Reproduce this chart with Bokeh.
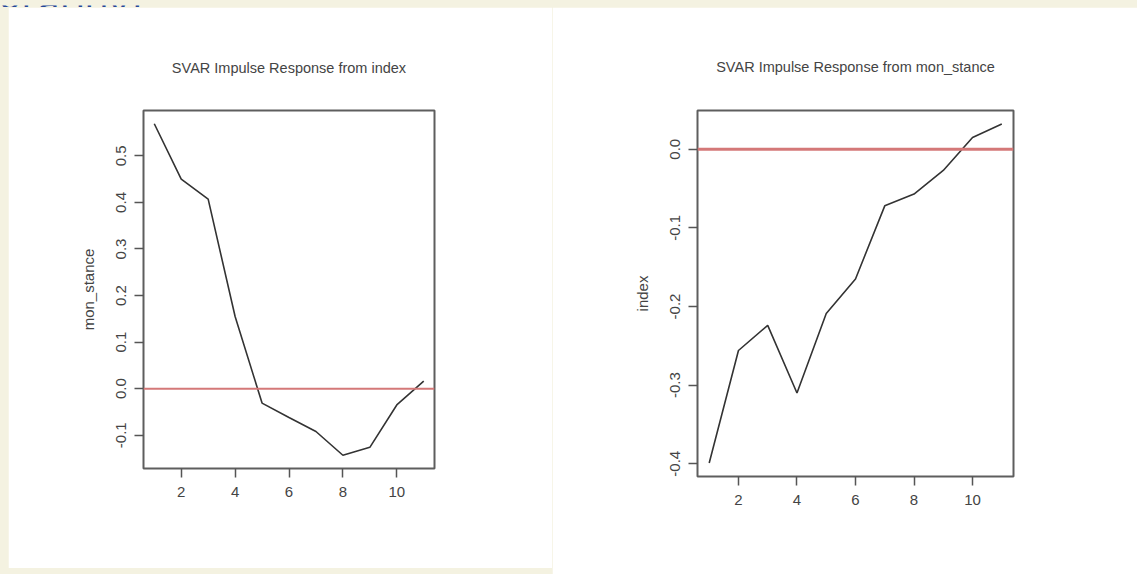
from bokeh.plotting import figure
from bokeh.layouts import column, row
from bokeh.models import (Range1d, FixedTicker, PrintfTickFormatter, Span, Spacer,
                          LinearAxis)
from bokeh.core.properties import value
from bokeh.embed import file_html
from bokeh.resources import INLINE

# Impulse response horizon (steps)
steps = [1, 2, 3, 4, 5, 6, 7, 8, 9, 10, 11]

# Response of mon_stance to a shock in index
resp_mon_stance = [0.569, 0.450, 0.407, 0.155, -0.031, -0.062, -0.092, -0.143, -0.126, -0.035, 0.016]
# Response of index to a shock in mon_stance
resp_index = [-0.399, -0.256, -0.224, -0.310, -0.209, -0.165, -0.072, -0.057, -0.027, 0.015, 0.032]

x_ticks = [2, 4, 6, 8, 10]
y_ticks_left = [-0.1, 0.0, 0.1, 0.2, 0.3, 0.4, 0.5]
y_ticks_right = [-0.4, -0.3, -0.2, -0.1, 0.0]

titles = ["SVAR Impulse Response from index", "SVAR Impulse Response from mon_stance"]
ylabels = ["mon_stance", "index"]
heading_text = "graphy)"

PAGE_BG = "#F4F2E1"
TEXT = "#444444"
FONT = "Liberation Sans"


def padded(vals, frac=0.04):
    lo, hi = min(vals), max(vals)
    d = (hi - lo) * frac
    return lo - d, hi + d


def irf_plot(xs, ys, yticks, title, ylabel, frame_w, frame_h, bl, br, bt, bb,
             title_gap, red_width):
    x0, x1 = padded(xs)
    y0, y1 = padded(ys)
    p = figure(frame_width=frame_w, frame_height=frame_h,
               x_range=Range1d(x0, x1), y_range=Range1d(y0, y1),
               output_backend="svg", toolbar_location=None,
               min_border_left=bl, min_border_right=br,
               min_border_top=bt, min_border_bottom=bb,
               background_fill_color="white", border_fill_color="white")
    p.margin = 0
    p.grid.visible = False
    p.outline_line_color = "#5e5e5e"
    p.outline_line_width = 2

    xax = p.below[0]
    yax = p.left[0]
    for ax in (xax, yax):
        ax.axis_line_color = None
        ax.major_tick_line_color = "#555555"
        ax.major_tick_line_width = 1.5
        ax.major_tick_out = 9
        ax.major_tick_in = 0
        ax.minor_tick_line_color = None
        ax.major_label_text_font = FONT
        ax.major_label_text_font_size = "15px"
        ax.major_label_text_color = TEXT

    xax.major_label_standoff = 9
    yax.major_label_standoff = 8
    xax.ticker = FixedTicker(ticks=x_ticks)
    yax.ticker = FixedTicker(ticks=yticks)
    yax.formatter = PrintfTickFormatter(format="%.1f")
    yax.major_label_orientation = "vertical"
    yax.axis_label = ylabel
    yax.axis_label_text_font = FONT
    yax.axis_label_text_font_size = "15px"
    yax.axis_label_text_font_style = "normal"
    yax.axis_label_text_color = TEXT
    yax.axis_label_standoff = 17

    # main title: the label of a bare axis on top of the frame
    top = LinearAxis(ticker=FixedTicker(ticks=[]), axis_line_color=None,
                     major_tick_line_color=None, minor_tick_line_color=None,
                     major_tick_out=0, major_tick_in=0, major_label_standoff=0,
                     axis_label=title, axis_label_standoff=title_gap,
                     axis_label_text_font=FONT, axis_label_text_font_size="14.5px",
                     axis_label_text_font_style="normal", axis_label_text_color=TEXT)
    p.add_layout(top, "above")

    p.add_layout(Span(location=0, dimension="width", line_color="#d47878",
                      line_width=red_width))
    p.line(xs, ys, line_color="#333333", line_width=1.6)
    return p


p1 = irf_plot(steps, resp_mon_stance, y_ticks_left, titles[0], ylabels[0],
              291, 358, 135, 118, 102, 101, 35, 2)
p2 = irf_plot(steps, resp_index, y_ticks_right, titles[1], ylabels[1],
              316, 366, 145, 124, 103, 98, 36, 3)

# Thin strip along the top holding the tail of the page heading
strip = figure(title=None, frame_width=1137, frame_height=7,
               x_range=Range1d(0, 1137), y_range=Range1d(0, 7),
               output_backend="svg", toolbar_location=None,
               x_axis_location=None, y_axis_location=None,
               min_border=0, background_fill_color=PAGE_BG, border_fill_color=PAGE_BG,
               outline_line_color=None)
strip.margin = 0
strip.grid.visible = False
strip.text(x=[-1], y=[11], text=[heading_text], text_font=value("Open Sans"),
           text_font_size="40px", text_color="#26489a", text_baseline="alphabetic",
           text_align="left")

left_pad = Spacer(width=8, height=561, margin=0)

layout = column(strip, row(left_pad, p1, p2, spacing=0, margin=0),
                spacing=0, margin=0,
                styles={"background-color": PAGE_BG})

with open("out.html", "w") as f:
    f.write(file_html(layout, INLINE))
